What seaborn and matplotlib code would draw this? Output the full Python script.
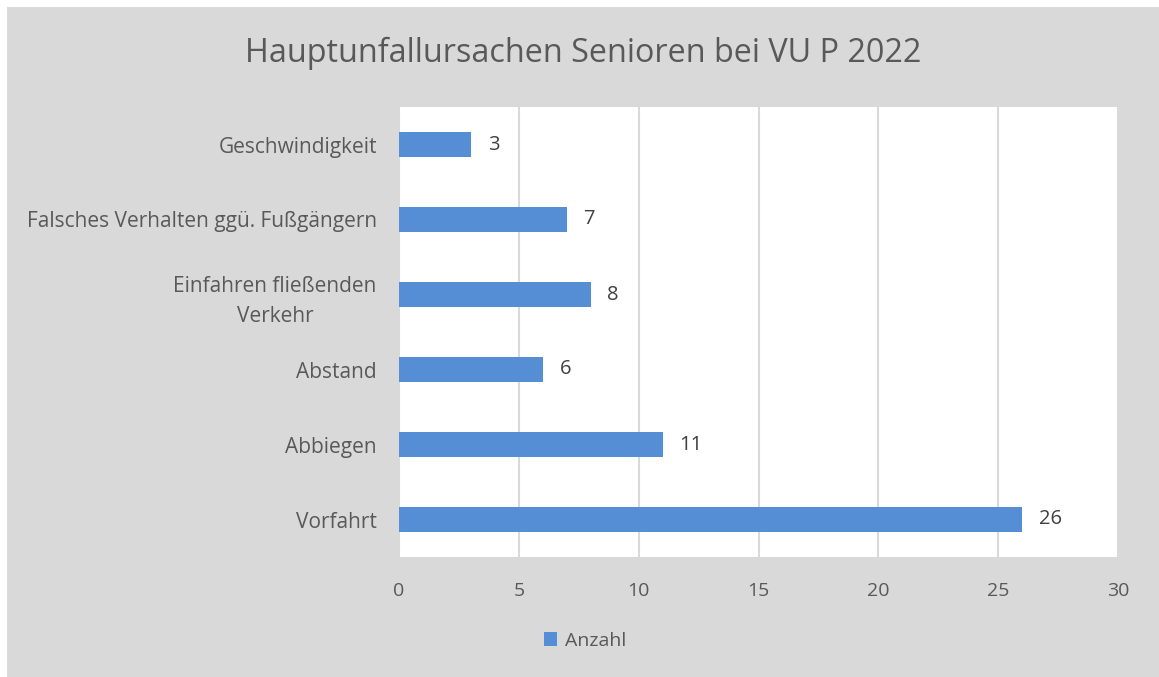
import seaborn as sns
import matplotlib.pyplot as plt
import pandas as pd
from matplotlib.patches import Rectangle

# data (top to bottom)
causes = ['Geschwindigkeit', 'Falsches Verhalten ggü. Fußgängern',
          'Einfahren fließenden\nVerkehr', 'Abstand', 'Abbiegen', 'Vorfahrt']
counts = [3, 7, 8, 6, 11, 26]
series_name = 'Anzahl'

df = pd.DataFrame({'cause': causes, 'count': counts, 'series': series_name})

sns.set_style('white')
plt.rcParams['font.family'] = ['Open Sans', 'DejaVu Sans']

bg = '#d9d9d9'
bar_color = '#558ed5'
text_color = '#595959'

fig = plt.figure(figsize=(11.59, 6.77), dpi=100)
fig.patch.set_facecolor('white')
fig.patches.append(Rectangle((7 / 1159, 0), 1, 1 - 7 / 677, transform=fig.transFigure,
                             facecolor=bg, edgecolor='none', zorder=-10))

ax = fig.add_axes([399 / 1159, 120 / 677, 719 / 1159, 450 / 677])
sns.barplot(data=df, y='cause', x='count', hue='series', palette=[bar_color],
            orient='h', width=0.34, ax=ax, saturation=1, linewidth=0)

ax.set_xlim(0, 30)
ax.set_xticks([0, 5, 10, 15, 20, 25, 30])
ax.grid(axis='x', color='#d9d9d9', linewidth=1.5)
ax.set_axisbelow(True)
for s in ax.spines.values():
    s.set_visible(False)
ax.set_xlabel('')
ax.set_ylabel('')
ax.tick_params(axis='x', length=0, labelsize=14, labelcolor=text_color, pad=18)
ax.tick_params(axis='y', length=0, labelsize=15, labelcolor=text_color, pad=16)
for lbl in ax.get_yticklabels():
    lbl.set_multialignment('center')
    lbl.set_linespacing(1.55)

for c in ax.containers:
    ax.bar_label(c, padding=12, fontsize=14.5, color='#404040')

fig.text(583 / 1159, 1 - 53 / 677, 'Hauptunfallursachen Senioren bei VU P 2022',
         ha='center', va='center', fontsize=23.3, color=text_color)

leg = ax.legend(loc='center', bbox_to_anchor=(585 / 1159, 1 - 641 / 677),
                bbox_transform=fig.transFigure, frameon=False, fontsize=14,
                handlelength=0.7, handleheight=0.7, handletextpad=0.4)
for t in leg.get_texts():
    t.set_color(text_color)

fig.savefig('out.png', dpi=100, facecolor=fig.get_facecolor())
